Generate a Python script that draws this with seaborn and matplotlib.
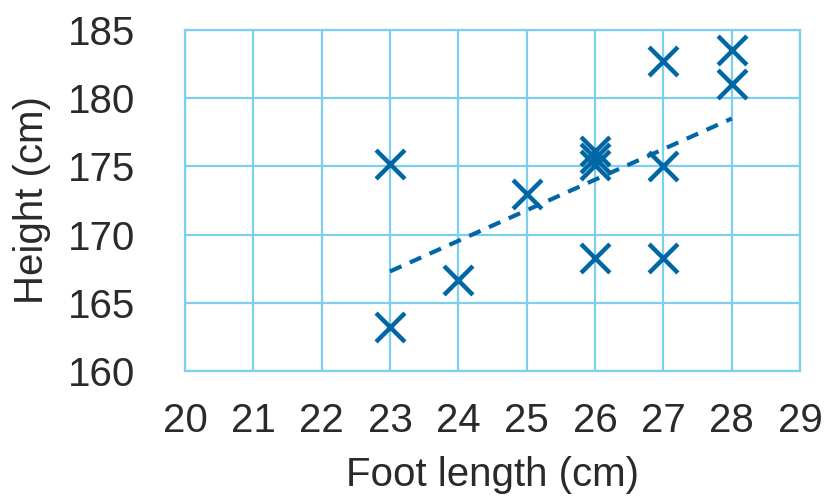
import matplotlib
matplotlib.use('Agg')
import matplotlib.pyplot as plt
import pandas as pd
import seaborn as sns

foot_length = [23, 23, 24, 25, 26, 26, 26, 26, 27, 27, 27, 28, 28]
height = [163.2, 175.2, 166.7, 173.0, 176.1, 175.6, 175.1, 168.3,
          182.7, 175.0, 168.3, 183.5, 181.0]
trend_x = [23, 28]
trend_y = [167.3, 178.5]
x_ticks = list(range(20, 30))
y_ticks = list(range(160, 190, 5))

MARK_COLOR = '#0066a6'
GRID_COLOR = '#7ccfee'
TEXT_COLOR = '#2a2a2a'

sns.set_theme(style='white')
plt.rcParams['font.family'] = ['Liberation Sans', 'DejaVu Sans']

df = pd.DataFrame({'foot': foot_length, 'height': height})
trend = pd.DataFrame({'foot': trend_x, 'height': trend_y})

fig = plt.figure(figsize=(8.37, 4.97), dpi=100)
ax = fig.add_axes([0.221, 0.2535, 0.735, 0.6865])

sns.lineplot(x='foot', y='height', data=trend, ax=ax, color=MARK_COLOR,
             linewidth=3, linestyle=(0, (3, 2.2)), zorder=3)
sns.scatterplot(x='foot', y='height', data=df, ax=ax, marker='x',
                s=430, color=MARK_COLOR, linewidth=3.2, zorder=4)

ax.set_xlim(20, 29)
ax.set_ylim(160, 185)
ax.set_xticks(x_ticks)
ax.set_yticks(y_ticks)
ax.grid(True, color=GRID_COLOR, linewidth=1.6)
ax.set_axisbelow(True)
for spine in ax.spines.values():
    spine.set_color(GRID_COLOR)
    spine.set_linewidth(1.6)
ax.tick_params(axis='both', length=0, labelsize=29, colors=TEXT_COLOR)
ax.tick_params(axis='x', pad=22)
ax.tick_params(axis='y', pad=36)
ax.set_xlabel('Foot length (cm)', fontsize=29, color=TEXT_COLOR, labelpad=12)
ax.set_ylabel('Height (cm)', fontsize=29, color=TEXT_COLOR, labelpad=12)

plt.savefig('out.png', dpi=100)
plt.close()
